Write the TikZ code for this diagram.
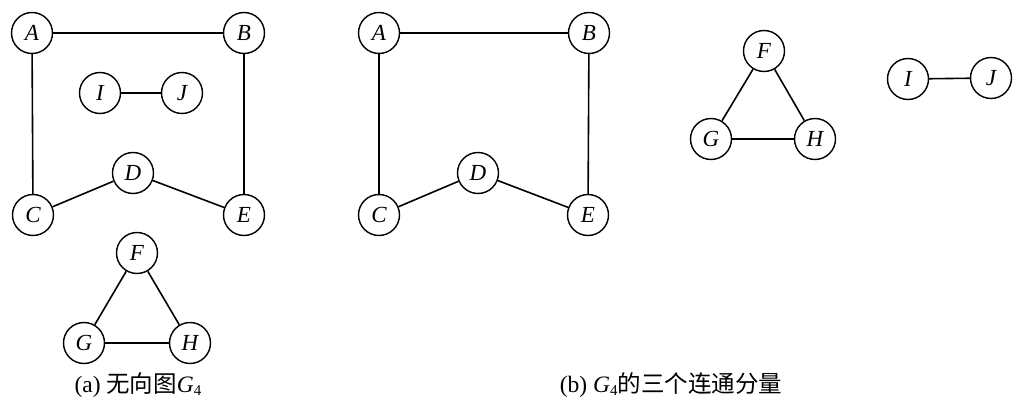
\documentclass[tikz,border=0pt]{standalone}
\usepackage{fontspec}
\setmainfont{Liberation Serif}
\newfontfamily\cjk{Noto Sans CJK SC}
\newcommand{\capfont}{\fontsize{23.5}{26}\selectfont}
\newcommand{\gsub}{\textit{G}\raisebox{-0.3ex}{\fontsize{15}{15}\selectfont 4}}
\tikzset{
  vtx/.style={circle, draw, line width=1.4pt, minimum size=41pt, inner sep=0pt,
    font=\fontsize{23}{23}\selectfont\itshape},
  edge/.style={line width=1.6pt},
  captxt/.style={inner sep=0pt, font=\capfont}
}
\begin{document}
\begin{tikzpicture}[x=1pt,y=-1pt]
\useasboundingbox (0,0) rectangle (1034,406);
% (a)
\node[vtx] (aA) at (32,33) {A};
\node[vtx] (aB) at (244,33) {B};
\node[vtx] (aI) at (100,93) {I};
\node[vtx] (aJ) at (182,93) {J};
\node[vtx] (aD) at (133,173) {D};
\node[vtx] (aC) at (33,215) {C};
\node[vtx] (aE) at (244,215) {E};
\node[vtx] (aF) at (137,253) {F};
\node[vtx] (aG) at (84,343) {G};
\node[vtx] (aH) at (190,343) {H};
\draw[edge] (aA) -- (aB);
\draw[edge] (aA) -- (aC);
\draw[edge] (aB) -- (aE);
\draw[edge] (aC) -- (aD);
\draw[edge] (aD) -- (aE);
\draw[edge] (aI) -- (aJ);
\draw[edge] (aF) -- (aG);
\draw[edge] (aF) -- (aH);
\draw[edge] (aG) -- (aH);
% (b)
\node[vtx] (bA) at (379,33) {A};
\node[vtx] (bB) at (589,33) {B};
\node[vtx] (bD) at (478,173) {D};
\node[vtx] (bC) at (379,215) {C};
\node[vtx] (bE) at (588,215) {E};
\node[vtx] (bF) at (764,51) {F};
\node[vtx] (bG) at (711,139) {G};
\node[vtx] (bH) at (815,139) {H};
\node[vtx] (bI) at (908,79) {I};
\node[vtx] (bJ) at (991,78) {J};
\draw[edge] (bA) -- (bB);
\draw[edge] (bA) -- (bC);
\draw[edge] (bB) -- (bE);
\draw[edge] (bC) -- (bD);
\draw[edge] (bD) -- (bE);
\draw[edge] (bF) -- (bG);
\draw[edge] (bF) -- (bH);
\draw[edge] (bG) -- (bH);
\draw[edge] (bI) -- (bJ);
% captions
\node[captxt] (capa) at (138,385) {(a) {\cjk 无向图}\gsub};
\node[captxt] (capb) at (671,385) {(b) \gsub{\cjk 的三个连通分量}};
\end{tikzpicture}
\end{document}
